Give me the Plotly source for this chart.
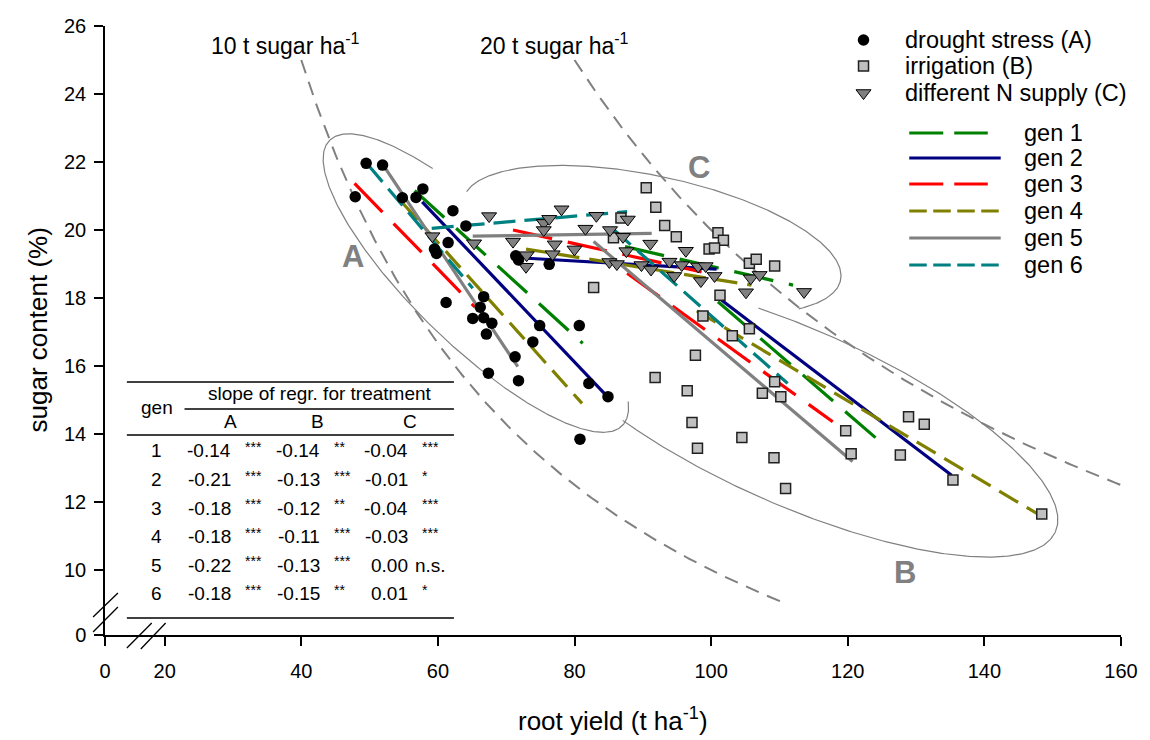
import numpy as np
import plotly.graph_objects as go

# ---------------- data ----------------
# treatment A: drought stress (root yield t/ha, sugar content %)
drought_x = [47.9, 49.5, 51.9, 54.8, 56.8, 57.8, 62.2, 64.1, 61.5, 59.5, 59.8, 71.4, 71.8, 76.3,
             66.7, 66.2, 61.2, 65.1, 66.7, 67.9, 67.1, 74.9, 80.7, 73.9, 71.3, 67.4, 71.8, 82.1,
             84.9, 80.8]
drought_y = [20.98, 21.96, 21.91, 20.95, 20.96, 21.21, 20.57, 20.12, 19.63, 19.44, 19.31, 19.24,
             19.12, 18.99, 18.04, 17.73, 17.87, 17.40, 17.42, 17.26, 16.94, 17.19, 17.19, 16.71,
             16.27, 15.79, 15.57, 15.49, 15.10, 13.85]
# treatment B: irrigation
irrig_x = [82.8, 85.7, 86.8, 90.5, 91.9, 93.2, 94.9, 101.0, 101.8, 99.7, 100.5, 105.6, 106.6,
           109.3, 101.3, 98.8, 105.6, 103.1, 97.7, 91.8, 96.5, 109.3, 107.5, 110.2, 97.2, 104.5,
           119.7, 98.0, 109.2, 120.5, 110.9, 128.9, 131.2, 127.7, 135.4, 148.4]
irrig_y = [18.31, 19.77, 20.35, 21.24, 20.67, 20.13, 19.80, 19.92, 19.70, 19.44, 19.47, 19.02,
           19.14, 18.94, 18.08, 17.47, 17.10, 16.89, 16.32, 15.66, 15.27, 15.54, 15.20, 15.10,
           14.34, 13.90, 14.10, 13.58, 13.30, 13.42, 12.40, 14.51, 14.29, 13.38, 12.65, 11.65]
# treatment C: different N supply
nsup_x = [59.2, 65.3, 67.5, 71.0, 72.9, 73.0, 75.5, 76.3, 75.5, 78.1, 77.1, 76.8, 81.6, 80.0,
          83.2, 85.2, 87.1, 87.8, 91.1, 87.6, 85.1, 86.2, 89.8, 91.2, 93.9, 94.6, 95.7, 96.3,
          98.1, 99.2, 98.5, 100.5, 105.8, 107.1, 105.1, 113.6]
nsup_y = [19.82, 19.61, 20.41, 19.66, 18.92, 19.26, 20.21, 20.33, 20.00, 20.61, 19.58, 19.29,
          20.04, 19.43, 20.42, 20.00, 19.80, 20.31, 19.60, 19.38, 19.06, 19.00, 18.97, 18.84,
          19.07, 18.65, 18.97, 19.39, 18.93, 18.94, 18.50, 18.65, 18.58, 18.68, 18.17, 18.18]

# regression lines per generation (start / end)
gens = [1, 2, 3, 4, 5, 6]
regA_x = [[56.6, 81.2], [57.7, 85.3], [47.8, 65.4], [54.9, 81.1], [52.0, 71.7], [49.8, 65.1]]
regA_y = [[21.16, 16.67], [20.83, 15.00], [21.37, 17.74], [20.78, 14.90], [21.91, 15.98], [21.91, 18.29]]
regB_x = [[101.0, 125.3], [101.5, 135.2], [87.7, 117.8], [97.9, 147.8], [82.8, 120.7], [85.8, 111.2]]
regB_y = [[17.89, 13.68], [17.94, 12.79], [18.73, 14.36], [17.62, 11.65], [19.66, 13.19], [20.00, 15.49]]
regC_x = [[87.4, 112.0], [73.1, 100.8], [71.0, 98.6], [72.9, 105.9], [65.1, 91.3], [59.1, 87.7]]
regC_y = [[19.51, 18.38], [19.17, 18.85], [20.00, 18.77], [19.44, 18.38], [19.82, 19.90], [20.05, 20.54]]

# table: slope of regression for treatment
tab_gen = ["1", "2", "3", "4", "5", "6"]
slope_A = ["-0.14", "-0.21", "-0.18", "-0.18", "-0.22", "-0.18"]
sig_A = ["***", "***", "***", "***", "***", "***"]
slope_B = ["-0.14", "-0.13", "-0.12", "-0.11", "-0.13", "-0.15"]
sig_B = ["**", "***", "**", "***", "***", "**"]
slope_C = ["-0.04", "-0.01", "-0.04", "-0.03", "0.00", "0.01"]
sig_C = ["***", "*", "***", "***", "n.s.", "*"]

# iso sugar-yield lines (t sugar / ha) and their root-yield span
sugar_levels = [10, 20]
sugar_x_span = [[40.0, 111.0], [80.0, 160.0]]

x_tick_vals = [20, 40, 60, 80, 100, 120, 140, 160]
y_tick_vals = [10, 12, 14, 16, 18, 20, 22, 24, 26]
X_BREAK_ZERO = 11.27   # where the "0" of the broken x axis sits
Y_BREAK_ZERO = 8.09    # where the "0" of the broken y axis sits

# ---------------- styling ----------------
W, H = 1150, 740
ML, MR, MT, MB = 105, 23, 26, 105
PW, PH = W - ML - MR, H - MT - MB
X_RANGE = [X_BREAK_ZERO, 160]
Y_RANGE = [Y_BREAK_ZERO, 26]
SX = PW / (X_RANGE[1] - X_RANGE[0])
SY = PH / (Y_RANGE[1] - Y_RANGE[0])

FONT = "Arial, 'Liberation Sans', sans-serif"
gen_colors = ["#008000", "#000080", "#FF0000", "#808000", "#808080", "#008080"]
gen_dash_plot = ["40px,16px", "solid", "40px,16px", "22px,10px", "solid", "22px,9px"]
gen_dash_leg = ["34px,11px", "solid", "34px,11px", "17.5px,6.5px", "solid", "17.5px,6.5px"]
leg_line_end = [993, 1006, 993, 1004, 1006, 1004]
GRAY = "#808080"


def PXp(x):  # pixel -> paper
    return (x - ML) / PW


def PYp(y):
    return (H - MB - y) / PH


def txt(x, y, s, size, xa="center", ya="middle", color="black", weight="normal", **kw):
    d = dict(x=PXp(x), y=PYp(y), xref="paper", yref="paper", text=s, showarrow=False,
             xanchor=xa, yanchor=ya,
             font=dict(size=size, family=FONT, color=color, weight=weight))
    d.update(kw)
    return d


fig = go.Figure()

# iso sugar-yield curves
for lvl, span in zip(sugar_levels, sugar_x_span):
    xs = np.linspace(span[0], span[1], 200)
    fig.add_trace(go.Scatter(x=xs, y=lvl * 100.0 / xs, mode="lines",
                             line=dict(color=GRAY, width=2, dash="14px,9px"),
                             hoverinfo="skip", showlegend=False))

# ellipses (center in data units, semi axes in px, angle in deg, arc range)
ellipses = [
    dict(c=(65.56, 18.44), a=205, b=62, ang=44, t=(-0.35, np.pi + 1.0)),
    dict(c=(112.43, 14.50), a=285, b=88, ang=23.7, t=(-1.85, 2.16)),
    dict(c=(91.33, 19.71), a=194, b=64, ang=12, t=(np.radians(187.5), np.radians(395))),
]
for e in ellipses:
    t = np.linspace(e["t"][0], e["t"][1], 300)
    th = np.radians(e["ang"])
    dxp = e["a"] * np.cos(t) * np.cos(th) - e["b"] * np.sin(t) * np.sin(th)
    dyp = e["a"] * np.cos(t) * np.sin(th) + e["b"] * np.sin(t) * np.cos(th)
    fig.add_trace(go.Scatter(x=e["c"][0] + dxp / SX, y=e["c"][1] - dyp / SY, mode="lines",
                             line=dict(color=GRAY, width=1.2), hoverinfo="skip",
                             showlegend=False))

# regression lines
for rx, ry in [(regA_x, regA_y), (regC_x, regC_y), (regB_x, regB_y)]:
    for i, g in enumerate(gens):
        fig.add_trace(go.Scatter(x=rx[i], y=ry[i], mode="lines",
                                 line=dict(color=gen_colors[i], width=3.2, dash=gen_dash_plot[i]),
                                 showlegend=False, name=f"gen {g}"))

# points
mk_circle = dict(symbol="circle", size=11.5, color="black")
mk_square = dict(symbol="square", size=10, color="#C0C0C0", line=dict(color="#202020", width=1.5))
mk_tri = dict(symbol="triangle-down", size=13, color=GRAY, line=dict(color="black", width=1))
fig.add_trace(go.Scatter(x=irrig_x, y=irrig_y, mode="markers", marker=mk_square, showlegend=False))
fig.add_trace(go.Scatter(x=nsup_x, y=nsup_y, mode="markers", marker=mk_tri, showlegend=False))
fig.add_trace(go.Scatter(x=drought_x, y=drought_y, mode="markers", marker=mk_circle, showlegend=False))

# legend markers on pixel overlay axes
leg_labels = ["drought stress (A)", "irrigation (B)", "different N supply (C)"]
leg_y = [40, 66, 93]
for mk, yy in zip([mk_circle, mk_square, mk_tri], leg_y):
    fig.add_trace(go.Scatter(x=[868], y=[yy], mode="markers", marker=mk, xaxis="x2", yaxis="y2",
                             showlegend=False, hoverinfo="skip"))

shapes = []
annotations = []

for lab, yy in zip(leg_labels, leg_y):
    annotations.append(txt(908, yy, lab, 23.5, xa="left"))
leg_line_y = [133, 158, 184, 211, 238, 265]
for i, g in enumerate(gens):
    shapes.append(dict(type="line", xref="paper", yref="paper", x0=PXp(914), x1=PXp(leg_line_end[i]),
                       y0=PYp(leg_line_y[i]), y1=PYp(leg_line_y[i]),
                       line=dict(color=gen_colors[i], width=3, dash=gen_dash_leg[i])))
    annotations.append(txt(1027, leg_line_y[i], f"gen {g}", 23.5, xa="left"))

# iso-line labels
annotations.append(txt(287, 44, "10 t sugar ha<sup>-1</sup>", 23))
annotations.append(txt(557, 44, "20 t sugar ha<sup>-1</sup>", 23))

# cluster letters
for lab, xx, yy in [("A", 354, 256), ("B", 910, 572), ("C", 703, 167)]:
    annotations.append(txt(xx, yy, lab, 31, color=GRAY, weight="bold"))

# table
for (x0, x1, y) in [(127, 456, 382), (185, 456, 409), (127, 456, 435), (127, 456, 618)]:
    shapes.append(dict(type="line", xref="paper", yref="paper", x0=PXp(x0), x1=PXp(x1),
                       y0=PYp(y), y1=PYp(y), line=dict(color="black", width=1.5)))
annotations.append(txt(157, 407, "gen", 19))
annotations.append(txt(321, 393, "slope of regr. for treatment", 19))
for lab, xx in [("A", 231.5), ("B", 318.5), ("C", 411.5)]:
    annotations.append(txt(xx, 421, lab, 19))
for i in range(len(tab_gen)):
    yy = 451 + i * 28.5
    annotations.append(txt(157, yy, tab_gen[i], 19))
    for vals, sigs, xr in [(slope_A, sig_A, 233.5), (slope_B, sig_B, 323.5), (slope_C, sig_C, 412)]:
        annotations.append(txt(xr, yy, vals[i], 19, xa="right"))
        s = sigs[i]
        if s.startswith("*"):
            annotations.append(txt(xr + 10, yy - 4, s, 14, xa="left"))
        else:
            annotations.append(txt(xr + 3, yy, s, 19, xa="left"))

# axis break marks
for (xa, ya, xb, yb) in [(93, 617, 118, 593), (93, 632, 118, 607),
                         (127, 648, 152, 623), (141, 649, 166, 623)]:
    shapes.append(dict(type="line", xref="paper", yref="paper", x0=PXp(xa), y0=PYp(ya),
                       x1=PXp(xb), y1=PYp(yb), line=dict(color="black", width=1.3)))

# axis titles
annotations.append(txt(616, 719, "root yield (t ha<sup>-1</sup>)", 26))
annotations.append(txt(38, 330, "sugar content (%)", 26, textangle=-90))

axis_common = dict(showline=True, linecolor="black", linewidth=1.5, ticks="outside", ticklen=9,
                   tickwidth=1.5, tickcolor="black", showgrid=False, zeroline=False,
                   tickfont=dict(size=20, family=FONT, color="black"))
fig.update_layout(
    width=W, height=H, margin=dict(l=ML, r=MR, t=MT, b=MB),
    paper_bgcolor="white", plot_bgcolor="white", showlegend=False,
    font=dict(family=FONT, color="black"),
    xaxis=dict(range=X_RANGE, tickvals=[X_BREAK_ZERO] + x_tick_vals,
               ticktext=["0"] + [str(v) for v in x_tick_vals], ticklabelstandoff=8, **axis_common),
    yaxis=dict(range=Y_RANGE, tickvals=[Y_BREAK_ZERO] + y_tick_vals,
               ticktext=["0"] + [str(v) for v in y_tick_vals], ticklabelstandoff=4, **axis_common),
    xaxis2=dict(range=[ML, W - MR], overlaying="x", anchor="y2", visible=False),
    yaxis2=dict(range=[H - MB, MT], overlaying="y", anchor="x2", visible=False),
    shapes=shapes, annotations=annotations,
)

fig.write_html("out.html")
